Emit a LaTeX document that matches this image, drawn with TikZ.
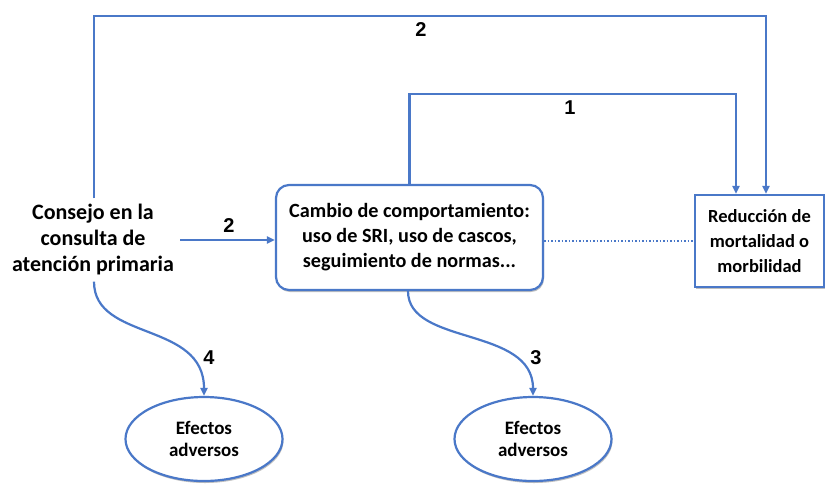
\documentclass[tikz,border=0pt]{standalone}
\usepackage{fontspec}
\setmainfont{Carlito}
\newfontfamily\numfont{Liberation Sans}
\usetikzlibrary{shapes.geometric,arrows.meta,shadows}
\definecolor{lineblue}{HTML}{4A78C8}
\begin{document}
\begin{tikzpicture}[x=1pt,y=-1pt,
  conn/.style={draw=lineblue,line width=2.2pt},
  arr/.style={conn,-{Triangle[length=8pt,width=7pt]}},
  num/.style={font=\numfont\bfseries\fontsize{20}{22}\selectfont,inner sep=0pt},
  shad/.style={drop shadow={shadow xshift=1pt,shadow yshift=-2pt,opacity=0.25,fill=black}},
  boxtxt/.style={font=\bfseries\fontsize{20.2}{25}\selectfont,align=center}]
\useasboundingbox (0,0) rectangle (826,483);
\node[font=\bfseries\fontsize{22}{26}\selectfont,align=center,inner sep=6pt] (consejo) at (93,240)
  {Consejo en la\\consulta de\\atención primaria};
\node[boxtxt,draw=lineblue,line width=2.2pt,rounded corners=13pt,fill=white,shad,
  minimum width=267pt,minimum height=105pt] (cambio) at (409.5,237.5)
  {Cambio de comportamiento:\\uso de SRI, uso de cascos,\\seguimiento de normas...};
\node[boxtxt,font=\bfseries\fontsize{18.5}{25}\selectfont,draw=lineblue,line width=2.2pt,fill=white,shad,
  minimum width=129pt,minimum height=92pt] (reduc) at (759.5,241)
  {Reducción de\\mortalidad o\\morbilidad};
\node[ellipse,draw=lineblue,line width=2.2pt,fill=white,shad,minimum width=157pt,minimum height=84pt,
  font=\bfseries\fontsize{19}{21.5}\selectfont,align=center] (ef1) at (204,439) {Efectos\\adversos};
\node[ellipse,draw=lineblue,line width=2.2pt,fill=white,shad,minimum width=157pt,minimum height=84pt,
  font=\bfseries\fontsize{19}{21.5}\selectfont,align=center] (ef2) at (533,439) {Efectos\\adversos};
% connectors
\draw[arr] ([xshift=1pt]consejo.north) -- ++(0,-182) -| ([xshift=6.5pt]reduc.north);
\draw[arr] (cambio.north) -- ++(0,-90) -| ([xshift=-23.5pt]reduc.north);
\draw[arr] (consejo.east) -- (consejo.east -| cambio.west);
\draw[draw=lineblue,line width=1.5pt,dotted] (cambio.east |- reduc.west) -- (reduc.west);
\draw[arr] ([xshift=1pt]consejo.south) .. controls ++(0,60) and ([yshift=75pt]ef1.north) .. (ef1.north);
\draw[arr] ([xshift=-1.5pt]cambio.south) .. controls ++(0,55) and ([yshift=70pt]ef2.north) .. (ef2.north);
% labels
\node[num] (l2a) at (421,30) {2};
\node[num] (l1) at (570,108) {1};
\node[num] (l2b) at (229,226) {2};
\node[num] (l4) at (209,358) {4};
\node[num] (l3) at (536,358) {3};
\end{tikzpicture}
\end{document}
